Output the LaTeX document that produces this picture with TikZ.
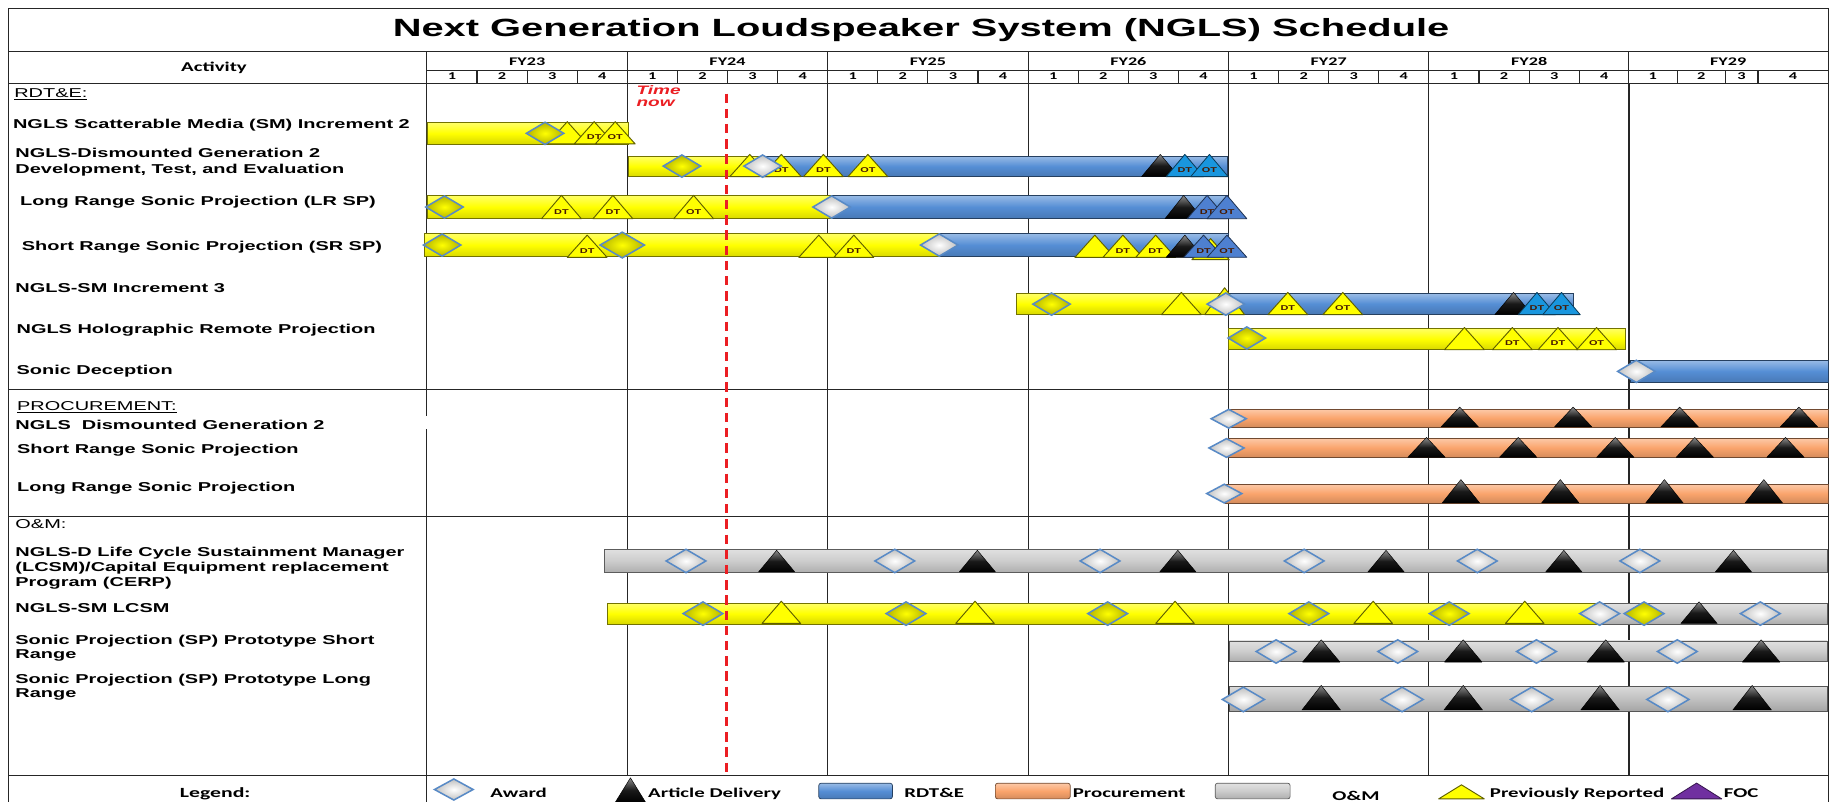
\documentclass[tikz,border=0pt]{standalone}
\usepackage{fontspec}
\newfontfamily\labf{Liberation Sans}[FakeStretch=1.55]
\newfontfamily\titf{Liberation Sans}[FakeStretch=1.6]
\newfontfamily\calf{Carlito}[FakeStretch=1.55]
\definecolor{rdblue}{RGB}{85,142,213}
\definecolor{proc}{RGB}{250,164,108}
\definecolor{omg}{RGB}{204,204,204}
\definecolor{omgd}{RGB}{192,192,192}
\definecolor{ybar}{RGB}{255,255,0}
\definecolor{olv}{RGB}{95,95,0}
\definecolor{dgb}{RGB}{88,138,198}
\definecolor{ltb}{RGB}{25,150,222}
\definecolor{mdb}{RGB}{78,128,208}
\definecolor{purp}{RGB}{112,48,160}
\definecolor{tnred}{RGB}{235,30,35}
\definecolor{dtc}{RGB}{70,25,0}
\newcommand\MTri[6]{\path[#1] (#2-#4,#3) -- (#2,#3-#5) -- (#2+#4,#3) -- cycle; \node[tlab] at (#2,#3-0.3*#5) {#6};}
\newcommand\MDia[5]{\path[#1] (#2-#4,#3) -- (#2,#3-#5) -- (#2+#4,#3) -- (#2,#3+#5) -- cycle;}
\begin{document}
\begin{tikzpicture}[x=1pt,y=-1pt,
  grid/.style={line width=0.9pt, draw=black!85},
  lbl/.style={anchor=base west, inner sep=0pt, font=\labf\bfseries\fontsize{11}{13}\selectfont},
  sec/.style={anchor=base west, inner sep=0pt, font=\labf\fontsize{11}{13}\selectfont},
  hdr/.style={anchor=base, inner sep=0pt, font=\calf\bfseries\fontsize{10}{11}\selectfont},
  qn/.style={anchor=base, inner sep=0pt, font=\calf\bfseries\fontsize{9}{10}\selectfont},
  leg/.style={anchor=base west, inner sep=0pt, font=\calf\bfseries\fontsize{11.5}{13}\selectfont},
  tlab/.style={inner sep=0pt, font=\labf\bfseries\fontsize{6}{7}\selectfont, text=dtc},
  barst/.style={top color=#1!60!white, bottom color=#1!85!black, middle color=#1, draw=#1!45!black, line width=0.6pt},
  ytri/.style={fill=ybar, draw=olv, line width=0.8pt, line join=round},
  ktri/.style={top color=black!45, bottom color=black, middle color=black!90, draw=black, line join=round},
  ltri/.style={fill=ltb, draw=ltb!40!black, line width=0.7pt, line join=round},
  mtri/.style={fill=mdb, draw=mdb!40!black, line width=0.7pt, line join=round},
  ptri/.style={fill=purp, draw=purp!50!black, line width=0.7pt, line join=round},
  wdia/.style={inner color=white, outer color=black!25, draw=dgb, line width=1.3pt},
  ydia/.style={inner color=ybar, outer color=ybar!70!black, draw=dgb, line width=1.3pt},
  tn/.style={anchor=base west, inner sep=0pt, text=tnred, font=\labf\bfseries\itshape\fontsize{10.5}{12}\selectfont}]
\useasboundingbox (0,0) rectangle (1568,685);
\fill[white] (0,0) rectangle (1568,685);
\begin{scope}
\clip (0,0) rectangle (1568,685);
% ---------- grid ----------
\draw[grid] (7,7) rectangle (1563,695);
\draw[grid] (7,44) -- (1563,44);
\draw[grid] (365,60) -- (1563,60);
\draw[grid] (7,71) -- (1563,71);
\draw[grid] (7,333) -- (1563,333);
\draw[grid] (7,441.5) -- (1563,441.5);
\draw[grid] (7,663) -- (1563,663);
\draw[grid] (365,44) -- (365,356);
\draw[grid] (365,367) -- (365,695);
\foreach \k in {1,...,5} \draw[grid] ({365+171.33*\k},44) -- ({365+171.33*\k},663);
\draw[grid] (1392.5,44) -- (1392.5,71);
\draw[grid, line width=1.8pt] (1392.5,71) -- (1392.5,663);
\foreach \j in {1,...,23} \draw[grid] ({365+42.833*\j},60) -- ({365+42.833*\j},71);
\foreach \x in {1434,1475,1503} \draw[grid] (\x,60) -- (\x,71);
% ---------- header text ----------
\node[anchor=base, inner sep=0pt, font=\titf\bfseries\fontsize{21.3}{24}\selectfont] (title) at (787.5,31.5) {Next Generation Loudspeaker System (NGLS) Schedule};
\node[anchor=base, inner sep=0pt, font=\calf\bfseries\fontsize{11.5}{12}\selectfont] (act) at (183,61) {Activity};
\foreach \i/\n in {0/23,1/24,2/25,3/26,4/27,5/28} \node[hdr] (fy\n) at ({365+171.33*\i+85.67},55.6) {FY\n};
\node[hdr] (fy29) at (1477.5,55.6) {FY29};
\foreach \i in {0,...,5} \foreach \q in {1,...,4} \node[qn] (q\i\q) at ({365+171.33*\i+42.833*(\q-0.5)},68) {\q};
\foreach \x/\q in {1413/1,1454.5/2,1489/3,1533/4} \node[qn] (q6\q) at (\x,68) {\q};
% ---------- activity labels ----------
\node[sec] (rdte) at (12,83) {\underline{RDT\&E:}};
\node[lbl] (r1) at (11,110) {NGLS Scatterable Media (SM) Increment 2};
\node[lbl] (r2a) at (13,135) {NGLS-Dismounted Generation 2};
\node[lbl] (r2b) at (13,148) {Development, Test, and Evaluation};
\node[lbl] (r3) at (17,176) {Long Range Sonic Projection (LR SP)};
\node[lbl] (r4) at (18.5,214) {Short Range Sonic Projection (SR SP)};
\node[lbl] (r5) at (13,250.5) {NGLS-SM Increment 3};
\node[lbl] (r6) at (14,285.5) {NGLS Holographic Remote Projection};
\node[lbl] (r7) at (14,320) {Sonic Deception};
\node[sec] (procl) at (14.5,351) {\underline{PROCUREMENT:}};
\node[lbl] (p1) at (13,367) {NGLS\ \ Dismounted Generation 2};
\node[lbl] (p2) at (14.5,388) {Short Range Sonic Projection};
\node[lbl] (p3) at (14.5,420) {Long Range Sonic Projection};
\node[sec] (oml) at (13,452) {O\&M:};
\node[lbl] (o1a) at (13,475.4) {NGLS-D Life Cycle Sustainment Manager};
\node[lbl] (o1b) at (13,488.8) {(LCSM)/Capital Equipment replacement};
\node[lbl] (o1c) at (13,501.6) {Program (CERP)};
\node[lbl] (o2) at (13,524) {NGLS-SM LCSM};
\node[lbl] (o3a) at (13,551) {Sonic Projection (SP) Prototype Short};
\node[lbl] (o3b) at (13,563) {Range};
\node[lbl] (o4a) at (13,584) {Sonic Projection (SP) Prototype Long};
\node[lbl] (o4b) at (13,596) {Range};
% ---------- RDT&E rows ----------
% R1
\path[barst=ybar] (365,105) rectangle (537,123);
\foreach \x/\l in {485/{},508/DT,526/OT} {\MTri{ytri}{\x}{123}{17}{19}{\l}}
\MDia{ydia}{466}{114}{16}{9.5}
% R2
\path[barst=ybar] (537,133.5) rectangle (650,151);
\path[barst=rdblue] (650,133.5) rectangle (1049,151);
\MDia{ydia}{583}{142}{16}{9.5}
\foreach \x/\l in {641/{},668/DT,704/DT,742/OT} {\MTri{ytri}{\x}{151}{17}{19}{\l}}
\MDia{wdia}{652}{142}{16}{9.5}
\MTri{ktri}{992}{151}{16}{19}{}
\foreach \x/\l in {1013/DT,1034/OT} {\MTri{ltri}{\x}{151}{16}{19}{\l}}
% R3
\path[barst=ybar] (365,167) rectangle (711,187);
\path[barst=rdblue] (711,167) rectangle (1049,187);
\MDia{ydia}{380}{177}{16}{9.5}
\foreach \x/\l in {480/DT,524/DT,593/OT} {\MTri{ytri}{\x}{187}{17}{20}{\l}}
\MDia{wdia}{711}{177}{16}{9.5}
\MTri{ktri}{1012}{187}{16}{20}{}
\foreach \x/\l in {1032/DT,1049/OT} {\MTri{mtri}{\x}{187}{17}{20}{\l}}
% R4
\path[barst=ybar] (363,199.5) rectangle (803,219.5);
\path[barst=rdblue] (803,199.5) rectangle (1050,219.5);
\MDia{ydia}{378}{209.5}{16}{9.5}
\MTri{ytri}{502}{220}{17}{19}{DT}
\MDia{ydia}{532}{209.5}{19}{11}
\foreach \x/\l in {700/{},730/DT} {\MTri{ytri}{\x}{220}{17}{19}{\l}}
\MDia{wdia}{803}{209.5}{16}{9.5}
\foreach \x/\l in {936/{},960/DT,988/DT} {\MTri{ytri}{\x}{220}{17}{19}{\l}}
\MTri{ktri}{1013}{220}{16}{19}{}
\MTri{ytri}{1035}{222}{16}{18}{}
\foreach \x/\l in {1029/DT,1049/OT} {\MTri{mtri}{\x}{220}{17}{19}{\l}}
% R5
\path[barst=ybar] (869,251) rectangle (1048,268.5);
\path[barst=rdblue] (1048,251) rectangle (1345,268.5);
\MDia{ydia}{899}{260}{16}{9.5}
\MTri{ytri}{1010}{269}{17}{19}{}
\MTri{ytri}{1047}{269}{17}{23}{}
\MDia{wdia}{1048}{260}{16}{9.5}
\foreach \x/\l in {1101/DT,1148/OT} {\MTri{ytri}{\x}{269}{17}{19}{\l}}
\MTri{ktri}{1294}{269}{16}{19}{}
\foreach \x/\l in {1314/DT,1335/OT} {\MTri{ltri}{\x}{269}{16}{19}{\l}}
% R6
\path[barst=ybar] (1050,280.5) rectangle (1390,299);
\MDia{ydia}{1066}{289}{16}{9.5}
\foreach \x/\l in {1252/{},1293/DT,1332/DT,1365/OT} {\MTri{ytri}{\x}{299}{17}{19}{\l}}
% R7
\path[barst=rdblue] (1394,308) rectangle (1563,327);
\MDia{wdia}{1399}{317.5}{16}{9.5}
% ---------- Procurement rows ----------
\path[barst=proc] (1050,350) rectangle (1563,365);
\MDia{wdia}{1050.5}{358}{15}{8}
\foreach \x in {1248,1345,1436,1538} {\MTri{ktri}{\x}{365}{16}{17}{}}
\path[barst=proc] (1050,374.7) rectangle (1563,391);
\MDia{wdia}{1048.6}{383}{15}{8}
\foreach \x in {1219.6,1298,1381,1449,1526.5} {\MTri{ktri}{\x}{391}{16}{17}{}}
\path[barst=proc] (1048,414) rectangle (1563,430);
\MDia{wdia}{1046.7}{422}{15}{8}
\foreach \x in {1249,1334,1423,1508} {\MTri{ktri}{\x}{430}{16}{20}{}}
% ---------- O&M rows ----------
\path[barst=omg] (517,469.6) rectangle (1562,489.7);
\foreach \x in {586.5,765,940.5,1115,1263,1402} {\MDia{wdia}{\x}{479.6}{17}{10}}
\foreach \x in {664,835.6,1007,1185,1337,1482} {\MTri{ktri}{\x}{489}{15.5}{18.5}{}}
\path[barst=ybar] (519.6,515.7) rectangle (1368,533.5);
\path[barst=omg] (1368,515.7) rectangle (1562,533.5);
\foreach \x in {601,774.6,947,1119,1239} {\MDia{ydia}{\x}{524.6}{17}{10}}
\foreach \x in {668,833.6,1004.6,1174,1303.6} {\MTri{ytri}{\x}{533}{16.5}{19}{}}
\MDia{wdia}{1367.6}{524.6}{17}{10}
\MDia{ydia}{1405.6}{524.6}{17}{10}
\MTri{ktri}{1452.6}{533}{15.5}{18.5}{}
\MDia{wdia}{1505}{524.6}{17}{10}
\path[barst=omg] (1050.8,548) rectangle (1562,565.7);
\foreach \x in {1091,1195,1313.6,1434} {\MDia{wdia}{\x}{557}{17}{10}}
\foreach \x in {1129.6,1251,1372.8,1505.7} {\MTri{ktri}{\x}{566}{16}{19}{}}
\path[barst=omgd] (1050.8,587) rectangle (1562,608.5);
\foreach \x in {1063,1198.7,1309.5,1426} {\MDia{wdia}{\x}{598}{18}{10.5}}
\foreach \x in {1129.6,1251,1368,1498} {\MTri{ktri}{\x}{607}{16.5}{21}{}}
% ---------- time now ----------
\draw[tnred, line width=2.2pt, dash pattern=on 8pt off 5pt] (621,80) -- (621,663);
\node[tn] (tn1) at (544,81) {Time};
\node[tn] (tn2) at (544,91) {now};
% ---------- legend ----------
\node[anchor=base, inner sep=0pt, font=\calf\bfseries\fontsize{12}{13}\selectfont] (legt) at (184,682) {Legend:};
\MDia{wdia}{388}{675}{16.5}{9}
\node[leg] (lg1) at (419,682) {Award};
\MTri{ktri}{539}{686}{13}{21}{}
\node[leg] (lg2) at (554,682) {Article Delivery};
\path[barst=rdblue, rounded corners=2pt] (700,669.6) rectangle (763,683);
\node[leg] (lg3) at (773,682) {RDT\&E};
\path[barst=proc, rounded corners=2pt] (851,669.6) rectangle (915,683);
\node[leg] (lg4) at (917,682) {Procurement};
\path[barst=omg, rounded corners=2pt] (1039,669.6) rectangle (1103,683);
\node[leg] (lg5) at (1139,684) {O\&M};
\MTri{ytri}{1249.5}{683}{19.5}{12}{}
\node[leg] (lg6) at (1273.6,682) {Previously Reported};
\MTri{ptri}{1450.5}{683}{21.5}{13.5}{}
\node[leg] (lg7) at (1473.7,682) {FOC};
\end{scope}
\end{tikzpicture}
\end{document}
